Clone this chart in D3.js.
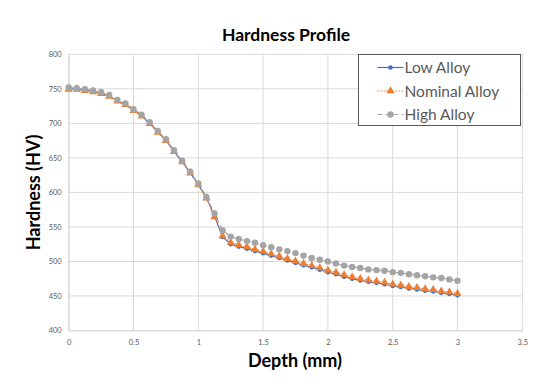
<!DOCTYPE html>
<html>
<head>
<meta charset="utf-8">
<script src="https://cdn.jsdelivr.net/npm/d3@7"></script>
<style>
  body { margin: 0; background: #fff; }
  text { font-family: Lato, "Open Sans", sans-serif; }
</style>
</head>
<body>
<div id="chart"></div>
<script>
// depth samples every 1/16 mm from 0 to 3
const depth = d3.range(49).map(i => i / 16);

const lowAlloy = [
  750.5, 749.5, 748, 746, 743.5, 739.5, 732.5, 727.5, 719, 711, 700, 687.5, 675.5, 659.5, 644.5, 628.5, 611.5, 592, 566, 535.5,
  525, 521.5, 518.5, 515, 512, 508.5, 505, 501.5, 498, 494.5, 491.5, 488, 484.5, 481.5, 478, 475, 472.5, 470.5, 469, 467, 464.5,
  463, 461, 459.5, 457.5, 456.5, 454.5, 453, 451
];
const nominalAlloy = [
  749, 749, 747.5, 745.5, 743, 739, 732, 727, 718.5, 710.5, 699.5, 687, 675, 659, 644, 628, 611, 591.5, 564.5, 537,
  527.5, 524, 521, 517.5, 514.5, 511, 507.5, 504, 500.5, 497, 494, 490.5, 487, 484, 480.5, 477.5, 475, 473, 471.5, 469.5, 467,
  465.5, 463.5, 462, 460, 459, 457, 455.5, 453.5
];
const highAlloy = [
  752, 751, 749.5, 747.5, 745, 741, 734, 729, 720.5, 712.5, 701.5, 689, 677, 661, 646, 630, 613, 593.5, 569.5, 545,
  536, 532.5, 529.5, 527, 523.5, 520.5, 517.5, 515, 512, 508.5, 505, 502.5, 500, 497, 494, 492, 490.5, 488.5, 487.5, 486.5, 484.5,
  483.5, 481.5, 480, 478.5, 477, 476, 474, 472
];

const xTicks = [0, 0.5, 1, 1.5, 2, 2.5, 3, 3.5];
const yTicks = [400, 450, 500, 550, 600, 650, 700, 750, 800];

const series = [
  { label: 'Low Alloy', color: '#4472C4', values: lowAlloy, dash: null, marker: 'circle', size: 2.3 },
  { label: 'Nominal Alloy', color: '#ED7D31', values: nominalAlloy, dash: '1.5,1.5', marker: 'triangle', size: 3.0 },
  { label: 'High Alloy', color: '#A5A5A5', values: highAlloy, dash: '5,3', marker: 'circle', size: 3.2 },
];

const width = 540;
const height = 384;
const margin = { top: 54.3, right: 17.7, bottom: 53.5, left: 68.7 };
const chartWidth = width - margin.left - margin.right;
const chartHeight = height - margin.top - margin.bottom;

const svg = d3.select('#chart').append('svg')
  .attr('width', width)
  .attr('height', height);

svg.append('rect').attr('width', width).attr('height', height).attr('fill', '#fff');

const g = svg.append('g').attr('transform', `translate(${margin.left},${margin.top})`);

const xScale = d3.scaleLinear().domain([0, 3.5]).range([0, chartWidth]);
const yScale = d3.scaleLinear().domain([400, 800]).range([chartHeight, 0]);

// gridlines
g.append('g')
  .selectAll('line.h')
  .data(yTicks)
  .join('line')
    .attr('x1', 0)
    .attr('x2', chartWidth)
    .attr('y1', d => yScale(d))
    .attr('y2', d => yScale(d))
    .attr('stroke', '#d9d9d9')
    .attr('stroke-width', 1)
;
g.append('g')
  .selectAll('line.v')
  .data(xTicks)
  .join('line')
    .attr('x1', d => xScale(d))
    .attr('x2', d => xScale(d))
    .attr('y1', 0)
    .attr('y2', chartHeight)
    .attr('stroke', '#d9d9d9')
    .attr('stroke-width', 1)
;

// axes
const xAxis = g.append('g')
  .attr('transform', `translate(0,${chartHeight})`)
  .call(d3.axisBottom(xScale).tickValues(xTicks).tickSize(0).tickPadding(9).tickFormat(d3.format('')))
;
const yAxis = g.append('g')
  .call(d3.axisLeft(yScale).tickValues(yTicks).tickSize(0).tickPadding(7))
;
[xAxis, yAxis].forEach(ax => {
  ax.select('.domain').attr('stroke', '#d9d9d9');
  ax.selectAll('text').attr('fill', '#595959').attr('font-size', '7.5px')
    .attr('font-family', 'Lato, "Open Sans", sans-serif');
});

const drawLine = d3.line()
  .x((d, i) => xScale(depth[i]))
  .y(d => yScale(d))
;

const tri = d3.symbol().type(d3.symbolTriangle);

function addMarker(sel, s, x, y) {
  if (s.marker === 'circle') {
    sel.append('circle')
      .attr('cx', x).attr('cy', y).attr('r', s.size)
      .attr('fill', s.color);
  } else {
    sel.append('path')
      .attr('d', tri.size(s.size * s.size * 3.2)())
      .attr('transform', `translate(${x},${y})`)
      .attr('fill', s.color);
  }
}

// draw series in order, high alloy on top
series.forEach(s => {
  g.append('path')
    .datum(s.values)
    .attr('fill', 'none')
    .attr('stroke', s.color)
    .attr('stroke-width', 1.2)
    .attr('stroke-dasharray', s.dash)
    .attr('d', drawLine)
  ;
  const mg = g.append('g');
  s.values.forEach((v, i) => addMarker(mg, s, xScale(depth[i]), yScale(v)));
});

// title and axis labels
svg.append('text')
  .attr('x', 286)
  .attr('y', 41)
  .attr('text-anchor', 'middle')
  .attr('font-size', '17.5px')
  .attr('font-weight', 'bold')
  .attr('fill', '#000')
  .text('Hardness Profile')
;
svg.append('text')
  .attr('x', 295)
  .attr('y', 367)
  .attr('text-anchor', 'middle')
  .attr('font-size', '18px')
  .attr('font-weight', 'bold')
  .attr('fill', '#000')
  .text('Depth (mm)')
;
svg.append('text')
  .attr('transform', `translate(40,${margin.top + chartHeight / 2}) rotate(-90)`)
  .attr('text-anchor', 'middle')
  .attr('font-size', '18px')
  .attr('font-weight', 'bold')
  .attr('fill', '#000')
  .text('Hardness (HV)')
;

// legend
const legend = svg.append('g').attr('transform', 'translate(358.5,54.5)');
legend.append('rect')
  .attr('width', 162)
  .attr('height', 71)
  .attr('fill', '#fff')
  .attr('stroke', '#595959')
  .attr('stroke-width', 1)
;
series.forEach((s, i) => {
  const y = 13 + i * 23.5;
  legend.append('line')
    .attr('x1', 19).attr('x2', 45)
    .attr('y1', y).attr('y2', y)
    .attr('stroke', s.color)
    .attr('stroke-width', 1.2)
    .attr('stroke-dasharray', s.dash)
  ;
  addMarker(legend, s, 32, y);
  legend.append('text')
    .attr('x', 46)
    .attr('y', y + 5.5)
    .attr('font-size', '15.5px')
    .attr('fill', '#595959')
    .text(s.label)
  ;
});
</script>
</body>
</html>
